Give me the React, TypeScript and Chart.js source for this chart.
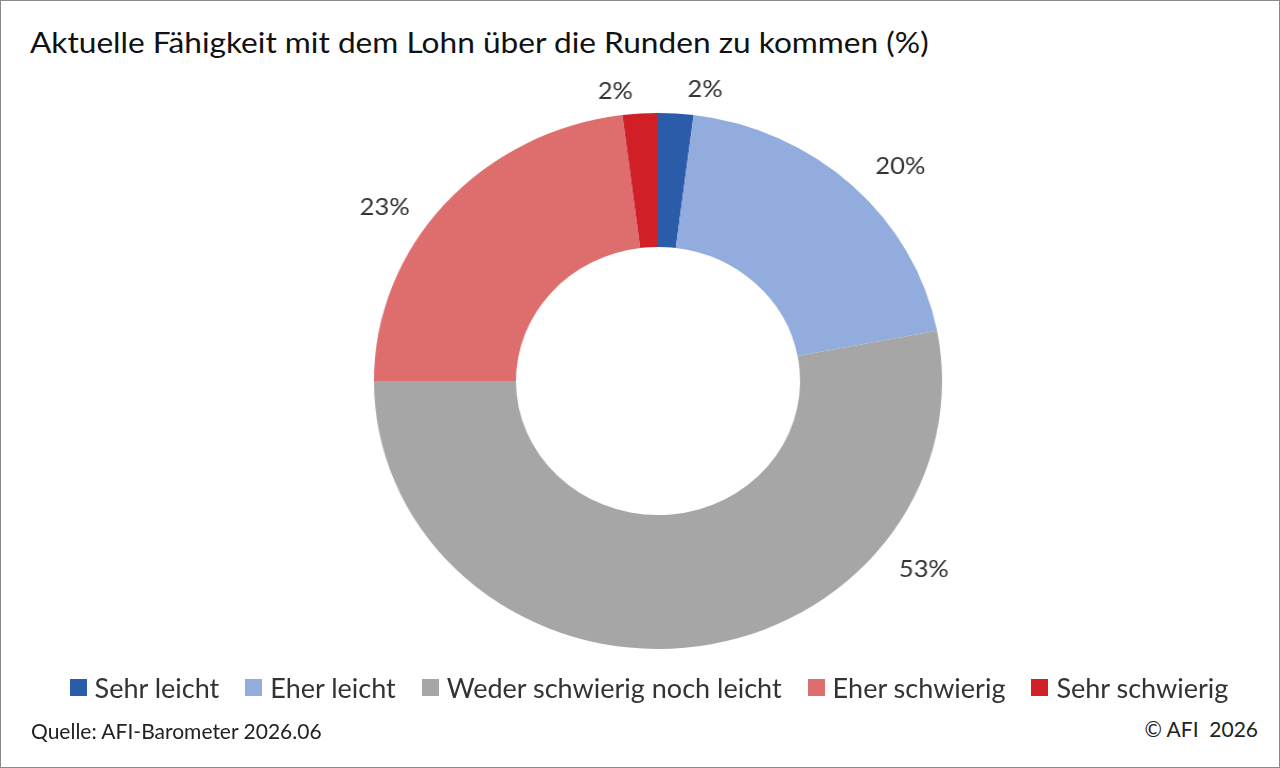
import { useEffect, useRef } from "react";
import Chart from "chart.js/auto";

const labels = ["Sehr leicht", "Eher leicht", "Weder schwierig noch leicht", "Eher schwierig", "Sehr schwierig"];
const values = [2, 20, 53, 23, 2];
const colors = ["#2a5caa", "#92acdd", "#a6a6a6", "#de6e6e", "#d01f27"];
// where each value label sits: fraction along its slice, and radius as a multiple of the outer radius
const labelFrac = [1.2, 0.55, 0.25, 0.41, -0.1];
const labelDist = [1.1, 1.17, 1.17, 1.16, 1.09];

const FONT = "Lato, 'Noto Sans', sans-serif";

export default function App() {
  const canvasRef = useRef<HTMLCanvasElement>(null);

  useEffect(() => {
    if (!canvasRef.current) return;
    const valueLabels = {
      id: "valueLabels",
      afterDraw(chart: any) {
        const meta = chart.getDatasetMeta(0);
        const ctx = chart.ctx;
        ctx.save();
        ctx.font = `24px ${FONT}`;
        ctx.fillStyle = "#333";
        ctx.textAlign = "center";
        ctx.textBaseline = "middle";
        meta.data.forEach((arc: any, i: number) => {
          const a = arc.startAngle + (arc.endAngle - arc.startAngle) * labelFrac[i];
          const r = arc.outerRadius * labelDist[i];
          ctx.fillText(values[i] + "%", arc.x + Math.cos(a) * r, arc.y + Math.sin(a) * r);
        });
        ctx.restore();
      },
    };
    const chart = new Chart(canvasRef.current, {
      type: "doughnut",
      data: {
        labels,
        datasets: [{ data: values, backgroundColor: colors, borderWidth: 0 }],
      },
      options: {
        animation: false,
        responsive: false,
        cutout: "50%",
        layout: { padding: { left: 132, right: 132, top: 92, bottom: 92 } },
        plugins: { legend: { display: false }, tooltip: { enabled: false } },
      },
      plugins: [valueLabels],
    });
    return () => chart.destroy();
  }, []);

  return (
    <div
      style={{
        position: "absolute",
        left: 0,
        top: 0,
        width: 1278,
        height: 766,
        border: "1px solid #8a8a8a",
        background: "#fff",
        fontFamily: FONT,
        color: "#111",
        overflow: "hidden",
      }}
    >
      <div style={{ position: "absolute", left: 29, top: 24, fontSize: 28, transform: "scaleX(1.13)", transformOrigin: "left top", whiteSpace: "nowrap" }}>
        Aktuelle Fähigkeit mit dem Lohn über die Runden zu kommen (%)
      </div>
      <canvas
        ref={canvasRef}
        width={800}
        height={720}
        style={{ position: "absolute", left: 233, top: 20, width: 848, height: 720 }}
      />
      <div
        style={{
          position: "absolute",
          left: 0,
          width: 1296,
          top: 670,
          display: "flex",
          justifyContent: "center",
          gap: 26,
          fontSize: 27,
          color: "#333",
        }}
      >
        {labels.map((l, i) => (
          <div key={l} style={{ display: "flex", alignItems: "center" }}>
            <span style={{ width: 17, height: 17, background: colors[i], marginRight: 8, display: "inline-block" }} />
            {l}
          </div>
        ))}
      </div>
      <div style={{ position: "absolute", left: 30, top: 717, fontSize: 21, color: "#222" }}>
        Quelle: AFI-Barometer 2026.06
      </div>
      <div style={{ position: "absolute", right: 21, top: 715, fontSize: 21, color: "#222", whiteSpace: "pre" }}>
        © AFI  2026
      </div>
    </div>
  );
}
